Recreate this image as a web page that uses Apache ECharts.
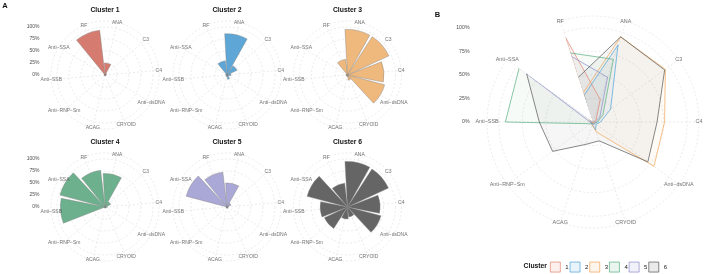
<!DOCTYPE html>
<html><head><meta charset="utf-8">
<script src="https://cdn.jsdelivr.net/npm/echarts@6/dist/echarts.min.js"></script>
<style>html,body{margin:0;padding:0;background:#fff}#c{width:708px;height:274px}</style>
</head><body><div id="c"></div>
<script>
// ---- data ----
const categories = ['RF','ANA','C3','C4','Anti\u2212dsDNA','CRYOID','ACAG','Anti\u2212RNP\u2212Sm','Anti\u2212SSB','Anti\u2212SSA'];
const clusterNames = ['1','2','3','4','5','6'];
const cluster1 = [0.94, 0.25, 0.04, 0.02, 0.02, 0.01, 0.01, 0.01, 0.01, 0.02];
const cluster2 = [0.30, 0.86, 0.23, 0.08, 0.04, 0.09, 0.03, 0.02, 0.02, 0.03];
const cluster3 = [0.33, 0.95, 0.95, 0.76, 0.80, 0.11, 0.03, 0.03, 0.03, 0.03];
const cluster4 = [0.77, 0.70, 0.13, 0.05, 0.02, 0.02, 0.02, 0.02, 0.93, 0.97];
const cluster5 = [0.73, 0.50, 0.09, 0.03, 0.02, 0.03, 0.02, 0.02, 0.02, 0.88];
const cluster6 = [0.50, 0.95, 0.94, 0.68, 0.72, 0.21, 0.25, 0.53, 0.57, 0.87];
const radialTicks = [0, 0.25, 0.5, 0.75, 1];
const radialTickLabels = ['0%','25%','50%','75%','100%'];

// ---- styling ----
const clusters = [cluster1, cluster2, cluster3, cluster4, cluster5, cluster6];
const fillA = ['#D57B6F','#5DA6D6','#EFB87C','#6DB08D','#AAA8D6','#656565'];
const lineB = ['#E2836F','#4EA3D8','#F2A657','#58AF80','#8D8BCA','#555555'];
const FONT = 'Liberation Sans, Arial, sans-serif';
const GRID_COL = '#d6d6d6';
const smallCenters = [[105,75],[227,75],[347.5,75],[105,207],[227,207],[347.5,207]];
const OUTER = 1.125; // ggplot outer circle (0.45 / 0.4)

function rgba(hex, a){const n=parseInt(hex.slice(1),16);return `rgba(${n>>16&255},${n>>8&255},${n&255},${a})`;}

const polar = [], angleAxis = [], radiusAxis = [], series = [], title = [];
function addPolar(center, radius, startAngle, band){
  const idx = polar.length;
  polar.push({center, radius});
  angleAxis.push({polarIndex: idx, type:'category', data: categories, startAngle, clockwise:true,
    boundaryGap: band,
    axisLine:{show:false}, axisLabel:{show:false}, axisTick:{show:false, alignWithLabel:true},
    splitLine:{show:true, lineStyle:{color:GRID_COL, width:0.5, type:[2,2]}}, z:0});
  radiusAxis.push({polarIndex: idx, type:'value', min:0, max:OUTER, interval:0.25,
    axisLine:{show:false}, axisLabel:{show:false}, axisTick:{show:false},
    splitLine:{show:true, lineStyle:{color:GRID_COL, width:0.5, type:[2,2]}}, z:0});
  return idx;
}
function labelSeries(pIdx, fs){
  return {type:'scatter', coordinateSystem:'polar', polarIndex:pIdx, symbolSize:1, clip:false, silent:true,
    itemStyle:{color:'rgba(0,0,0,0)'},
    data: categories.map((c,j)=>({value:[OUTER, j], name:c})),
    label:{show:true, position:'inside', formatter:'{b}', fontSize:fs, color:'#4d4d4d', fontFamily:FONT}, z:5};
}

// panel A small polar bar charts
clusters.forEach((vals, i)=>{
  const p = addPolar(smallCenters[i], 54, 131, true);
  series.push({type:'bar', name:'bar'+(i+1), coordinateSystem:'polar', polarIndex:p,
    data: vals, barCategoryGap:'10%',
    itemStyle:{color:fillA[i], borderColor:'#7d7d7d', borderWidth:0.4}, z:2});
  series.push(labelSeries(p, 5));
  title.push({text:'Cluster '+(i+1), left:smallCenters[i][0], top: i<3 ? 10 : 142.5, textAlign:'center', textVerticalAlign:'middle', padding:0,
    textStyle:{fontSize:6.8, fontWeight:'bold', color:'#111', fontFamily:FONT}});
});

// panel B radar-like polar
const pB = addPolar([593,122], 106, 108, false);
series.push(labelSeries(pB, 5.4));
clusters.forEach((vals, i)=>{
  const d = vals.map((v,j)=>[v, j]);
  d.push([vals[0], 0]);
  series.push({type:'line', name:clusterNames[i], coordinateSystem:'polar', polarIndex:pB,
    data:d, showSymbol:false, symbol:'none', clip:false,
    lineStyle:{color:lineB[i], width:0.7}, itemStyle:{color:lineB[i]},
    areaStyle:{color:rgba(lineB[i],0.08)}, z:3});
});

// radial tick labels (left of panels)
const gridDefs = [{left:41.5, top:27, height:48},{left:41.5, top:159, height:48},{left:471.5, top:28, height:94}];
const grid = gridDefs.map(g=>({left:g.left, top:g.top, width:1, height:g.height}));
const xAxis = gridDefs.map((g,i)=>({gridIndex:i, type:'value', show:false}));
const yAxis = gridDefs.map((g,i)=>({gridIndex:i, type:'value', min:radialTicks[0], max:radialTicks[radialTicks.length-1], interval:0.25,
  axisLine:{show:false}, axisTick:{show:false}, splitLine:{show:false},
  axisLabel:{margin:2, fontSize: i<2?5:5.2, color:'#4d4d4d', fontFamily:FONT,
    formatter:(v)=>radialTickLabels[radialTicks.indexOf(v)] || ''}}));

title.push({text:'A', left:5, top:6, textAlign:'center', textVerticalAlign:'middle', padding:0, textStyle:{fontSize:7.5, fontWeight:'bold', color:'#111', fontFamily:FONT}});
title.push({text:'B', left:437.5, top:15, textAlign:'center', textVerticalAlign:'middle', padding:0, textStyle:{fontSize:7.5, fontWeight:'bold', color:'#111', fontFamily:FONT}});
title.push({text:'Cluster', left:547, top:266.5, textAlign:'right', textVerticalAlign:'middle', padding:0, textStyle:{fontSize:6.8, fontWeight:'bold', color:'#111', fontFamily:FONT}});

const chart = echarts.init(document.getElementById('c'), null, {renderer:'canvas'});
chart.setOption({
  animation:false,
  backgroundColor:'#fff',
  title, polar, angleAxis, radiusAxis, grid, xAxis, yAxis,
  legend:{left:550, top:261.7, orient:'horizontal', padding:0, itemWidth:10, itemHeight:10, itemGap:1,
    icon:'rect', selectedMode:false,
    textStyle:{fontSize:6, color:'#222', fontFamily:FONT},
    data: clusterNames.map((n,i)=>({name:n, icon:'rect',
      itemStyle:{color:rgba(lineB[i],0.12), borderColor:lineB[i], borderWidth:0.7},
      lineStyle:{opacity:0}}))},
  series
});
</script></body></html>
